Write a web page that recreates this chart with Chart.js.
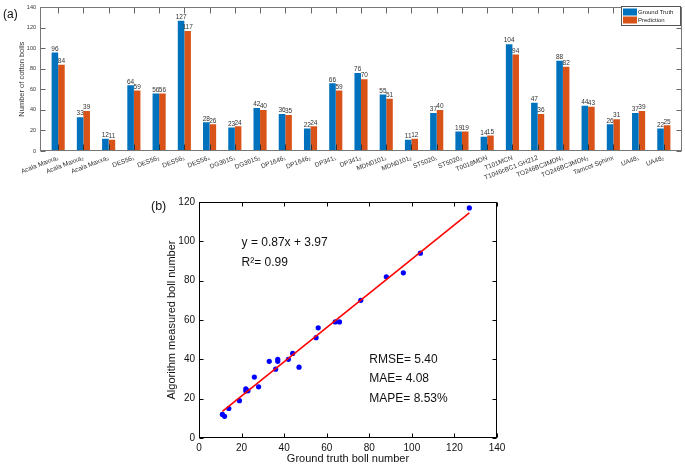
<!DOCTYPE html>
<html><head><meta charset="utf-8">
<script src="https://cdn.jsdelivr.net/npm/chart.js@4"></script>
<style>
html,body{margin:0;padding:0;background:#fff;}
body{width:685px;height:470px;position:relative;overflow:hidden;}
#wa{position:absolute;left:0;top:0;width:685px;height:192px;}
#wb{position:absolute;left:140px;top:190px;width:380px;height:280px;}
canvas{display:block;}
</style></head><body>
<div id="wa"><canvas id="ca" width="685" height="192"></canvas></div>
<div id="wb"><canvas id="cb" width="380" height="280"></canvas></div>
<script>
// ---------- data ----------
const categories = ['Acala Maxxa\u2081','Acala Maxxa\u2082','Acala Maxxa\u2083','DES56\u2081','DES56\u2082','DES56\u2083','DES56\u2084',
  'DG3615\u2081','DG3615\u2082','DP1646\u2081','DP1646\u2082','DP341\u2081','DP341\u2082','MDN0101\u2081','MDN0101\u2082',
  'ST5020\u2081','ST5020\u2082','T0018MDN','T101MCN','T1046cBC1.GH212','TO246BC3MDN\u2081','TO246BC3MDN\u2082',
  'Tamcot Sphinx','UA48\u2081','UA48\u2082'];
const groundTruth = [96,33,12,64,56,127,28,23,42,36,22,66,76,55,11,37,19,14,104,47,88,44,26,37,22];
const prediction  = [84,39,11,59,56,117,26,24,40,35,24,59,70,51,12,40,19,15,94,36,82,43,31,39,25];
const seriesNames = ['Ground Truth','Prediction'];
const barYTicks = [0,20,40,60,80,100,120,140];
const scatterXTicks = [0,20,40,60,80,100,120,140];
const scatterYTicks = [0,20,40,60,80,100,120];
const fitLine = [{x:11,y:13.54},{x:127,y:114.46}];
const fitTexts = ['y = 0.87x + 3.97','R\u00B2= 0.99'];
const metricTexts = ['RMSE= 5.40','MAE= 4.08','MAPE= 8.53%'];
const xTitleB = 'Ground truth boll number';
const yTitleB = 'Algorithm measured boll number';
const yTitleA = 'Number of cotton bolls';

// ---------- style ----------
const FONT = '"Liberation Sans", Arial, Helvetica, sans-serif';
const BLUE = '#0072BD', ORANGE = '#D95319';
Chart.defaults.font.family = FONT;
Chart.defaults.animation = false;

// ---------- chart (a) ----------
const plugA = {
  id:'plugA',
  afterDatasetsDraw(chart){
    const {ctx, chartArea:a, scales:{x,y}} = chart;
    ctx.save();
    ctx.font = '6.5px '+FONT; ctx.fillStyle = '#333'; ctx.textAlign='center'; ctx.textBaseline='bottom';
    chart.data.datasets.forEach((ds,di)=>{
      chart.getDatasetMeta(di).data.forEach((bar,j)=>{
        ctx.fillText(String(ds.data[j].y), bar.x, bar.y-0.3);
      });
    });
    const L=Math.round(a.left)+0.5, R=Math.round(a.right)-0.5, T=Math.round(a.top)+0.5, B=Math.round(a.bottom)-0.5;
    ctx.lineWidth=1;
    categories.forEach((c,i)=>{
      const px = Math.round(x.getPixelForValue(i+1))+0.5;
      ctx.strokeStyle='#666';
      ctx.beginPath(); ctx.moveTo(px,T); ctx.lineTo(px,T+6); ctx.stroke();
      ctx.strokeStyle='#333';
      ctx.beginPath(); ctx.moveTo(px,B); ctx.lineTo(px,B-6); ctx.stroke();
    });
    ctx.strokeStyle='#666';
    barYTicks.forEach(v=>{
      const py = Math.round(y.getPixelForValue(v))+0.5;
      ctx.beginPath(); ctx.moveTo(L,py); ctx.lineTo(L+5,py); ctx.moveTo(R,py); ctx.lineTo(R-5,py); ctx.stroke();
    });
    ctx.strokeStyle='#777';
    ctx.strokeRect(L,T,R-L,B-T);
    const lx=621.5, ly=6.5, lw=59, lh=19;
    ctx.fillStyle='#fff'; ctx.fillRect(lx,ly,lw,lh);
    ctx.strokeStyle='#555'; ctx.strokeRect(lx,ly,lw,lh);
    ctx.fillStyle=BLUE; ctx.fillRect(623,8.5,14,7);
    ctx.fillStyle=ORANGE; ctx.fillRect(623,16.5,14,7);
    ctx.fillStyle='#222'; ctx.font='6px '+FONT; ctx.textAlign='left'; ctx.textBaseline='middle';
    ctx.fillText(seriesNames[0],638,12.2);
    ctx.fillText(seriesNames[1],638,20.2);
    ctx.font='12px '+FONT; ctx.fillStyle='#111'; ctx.textBaseline='middle';
    ctx.fillText('(a)',3,15);
    ctx.restore();
  }
};

new Chart(document.getElementById('ca'),{
  type:'bar',
  data:{
    datasets:[
      {label:seriesNames[0], data:groundTruth.map((v,i)=>({x:i+1,y:v})), backgroundColor:BLUE, borderWidth:0,
       categoryPercentage:0.52, barPercentage:1.0},
      {label:seriesNames[1], data:prediction.map((v,i)=>({x:i+1,y:v})), backgroundColor:ORANGE, borderWidth:0,
       categoryPercentage:0.52, barPercentage:1.0}
    ]
  },
  options:{
    responsive:false, devicePixelRatio:1,
    layout:{padding:{left:0,right:3,top:4,bottom:0}},
    plugins:{legend:{display:false}, tooltip:{enabled:false}},
    scales:{
      x:{type:'linear', min:0.28, max:25.72, offset:false,
        afterBuildTicks:s=>{ s.ticks = categories.map((c,i)=>({value:i+1})); },
        afterFit:s=>{ s.height = 41; },
        ticks:{autoSkip:false, minRotation:21, maxRotation:21, font:{size:6.5}, color:'#333', padding:3,
          callback:v=>categories[Math.round(v)-1] ?? ''},
        grid:{drawOnChartArea:false, drawTicks:false, offset:false}, border:{display:false}},
      y:{min:0, max:140,
        afterBuildTicks:s=>{ s.ticks = barYTicks.map(v=>({value:v})); },
        afterFit:s=>{ s.width = 40; },
        ticks:{font:{size:5.5}, color:'#333', padding:4},
        grid:{drawOnChartArea:false, drawTicks:false}, border:{display:false},
        title:{display:true, text:yTitleA, font:{size:7.5}, color:'#333', padding:{top:17,bottom:0}}}
    }
  },
  plugins:[plugA]
});

// ---------- chart (b) ----------
const plugB = {
  id:'plugB',
  afterDatasetsDraw(chart){
    const {ctx, chartArea:a, scales:{x,y}} = chart;
    ctx.save();
    const L=Math.round(a.left)+0.5, R=Math.round(a.right)-0.5, T=Math.round(a.top)+0.5, B=Math.round(a.bottom)-0.5;
    ctx.strokeStyle='#000'; ctx.lineWidth=1;
    ctx.strokeRect(L,T,R-L,B-T);
    scatterXTicks.forEach(v=>{
      const px=Math.round(x.getPixelForValue(v))+0.5;
      ctx.beginPath(); ctx.moveTo(px,B); ctx.lineTo(px,B-4); ctx.moveTo(px,T); ctx.lineTo(px,T+4); ctx.stroke();
    });
    scatterYTicks.forEach(v=>{
      const py=Math.round(y.getPixelForValue(v))+0.5;
      ctx.beginPath(); ctx.moveTo(L,py); ctx.lineTo(L+4,py); ctx.moveTo(R,py); ctx.lineTo(R-4,py); ctx.stroke();
    });
    ctx.font='12px '+FONT; ctx.fillStyle='#111'; ctx.textAlign='left'; ctx.textBaseline='middle';
    ctx.fillText(fitTexts[0], x.getPixelForValue(20), y.getPixelForValue(99.5));
    ctx.fillText(fitTexts[1], x.getPixelForValue(20), y.getPixelForValue(89));
    ctx.fillText(metricTexts[0], x.getPixelForValue(80), y.getPixelForValue(40));
    ctx.fillText(metricTexts[1], x.getPixelForValue(80), y.getPixelForValue(30));
    ctx.fillText(metricTexts[2], x.getPixelForValue(80), y.getPixelForValue(20));
    ctx.font='12.5px '+FONT;
    ctx.fillText('(b)', 11, 17);
    ctx.restore();
  }
};

new Chart(document.getElementById('cb'),{
  type:'scatter',
  data:{
    datasets:[
      {type:'line', label:'fit', data:fitLine, borderColor:'#FF0000', borderWidth:1.6, pointRadius:0, fill:false},
      {label:'points', data:groundTruth.map((v,i)=>({x:v,y:prediction[i]})), backgroundColor:'#0000FF',
       borderWidth:0, pointRadius:2.6}
    ]
  },
  options:{
    responsive:false, devicePixelRatio:1,
    layout:{padding:{left:0,right:23,top:12,bottom:0}},
    plugins:{legend:{display:false}, tooltip:{enabled:false}},
    scales:{
      x:{type:'linear', min:0, max:140,
        afterBuildTicks:s=>{ s.ticks = scatterXTicks.map(v=>({value:v})); },
        afterFit:s=>{ s.height = 32; },
        ticks:{font:{size:10}, color:'#111', padding:4},
        grid:{drawOnChartArea:false, drawTicks:false}, border:{display:false},
        title:{display:true, text:xTitleB, font:{size:11}, color:'#111', padding:{top:0,bottom:4}}},
      y:{min:0, max:120,
        afterBuildTicks:s=>{ s.ticks = scatterYTicks.map(v=>({value:v})); },
        afterFit:s=>{ s.width = 59; },
        ticks:{font:{size:10}, color:'#111', padding:4},
        grid:{drawOnChartArea:false, drawTicks:false}, border:{display:false},
        title:{display:true, text:yTitleB, font:{size:11}, color:'#111', padding:{top:25,bottom:0}}}
    }
  },
  plugins:[plugB]
});
</script>
</body></html>
